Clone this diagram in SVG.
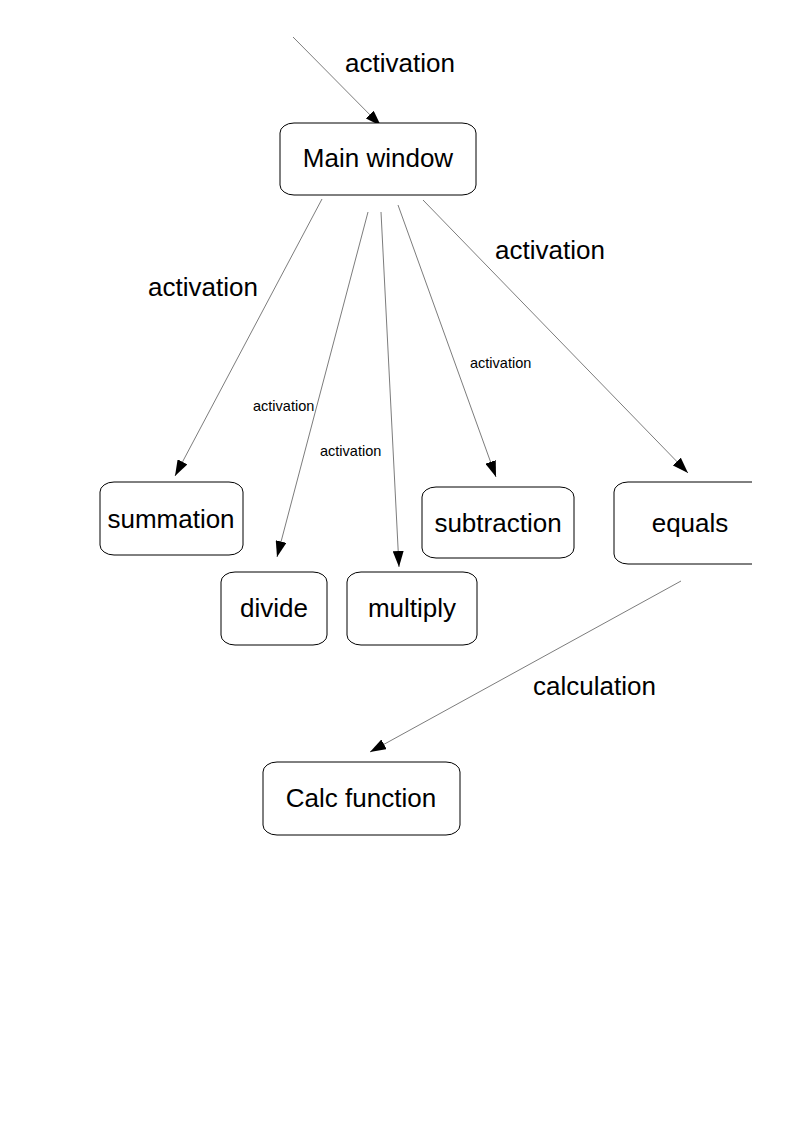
<svg xmlns="http://www.w3.org/2000/svg" width="794" height="1123" viewBox="0 0 794 1123">
<style>
.box{fill:#fff;stroke:#000;stroke-width:1}
.t{font-family:"Liberation Sans",Arial,sans-serif;font-size:26px;fill:#000;text-anchor:middle}
.lb{font-family:"Liberation Sans",Arial,sans-serif;font-size:26px;fill:#000}
.ls{font-family:"Liberation Sans",Arial,sans-serif;font-size:14.5px;fill:#000}
.e{stroke:#444;stroke-width:0.7;fill:none;marker-end:url(#ah)}
</style>
<defs>
<marker id="ah" markerUnits="userSpaceOnUse" markerWidth="17" markerHeight="11" refX="16" refY="5.5" orient="auto">
<path d="M0,0 L16,5.5 L0,11 z" fill="#000"/>
</marker>
</defs>
<rect width="794" height="1123" fill="#fff"/>
<g id="connectors">
<line class="e" x1="293" y1="37" x2="381" y2="126"/>
<line class="e" x1="322" y1="199" x2="175" y2="476"/>
<line class="e" x1="368" y1="212" x2="277" y2="557"/>
<line class="e" x1="381" y1="212" x2="399" y2="567"/>
<line class="e" x1="398" y1="205" x2="496" y2="477"/>
<line class="e" x1="423" y1="200" x2="688" y2="473"/>
<line class="e" x1="681" y1="581" x2="370" y2="752"/>
<text class="lb" x="345" y="72">activation</text>
<text class="lb" x="148" y="296">activation</text>
<text class="lb" x="495" y="259">activation</text>
<text class="ls" x="253" y="411">activation</text>
<text class="ls" x="320" y="456">activation</text>
<text class="ls" x="470" y="368">activation</text>
<text class="lb" x="533" y="695">calculation</text>
</g>
<g id="main-window">
<rect class="box" x="280" y="123" width="196" height="72" rx="14" ry="10"/>
<text class="t" x="378" y="167">Main window</text>
</g>
<g id="summation">
<rect class="box" x="100" y="482" width="143" height="73" rx="14" ry="10"/>
<text class="t" x="171" y="528">summation</text>
</g>
<g id="divide">
<rect class="box" x="221" y="572" width="106" height="73" rx="14" ry="10"/>
<text class="t" x="274" y="617">divide</text>
</g>
<g id="multiply">
<rect class="box" x="347" y="572" width="130" height="73" rx="14" ry="10"/>
<text class="t" x="412" y="617">multiply</text>
</g>
<g id="subtraction">
<rect class="box" x="422" y="487" width="152" height="71" rx="14" ry="10"/>
<text class="t" x="498" y="532">subtraction</text>
</g>
<g id="equals">
<path class="box" d="M752,482 L628,482 A14,10 0 0 0 614,492 L614,554 A14,10 0 0 0 628,564 L752,564"/>
<text class="t" x="690" y="532">equals</text>
</g>
<g id="calc-function">
<rect class="box" x="263" y="762" width="197" height="73" rx="14" ry="10"/>
<text class="t" x="361" y="807">Calc function</text>
</g>
</svg>
